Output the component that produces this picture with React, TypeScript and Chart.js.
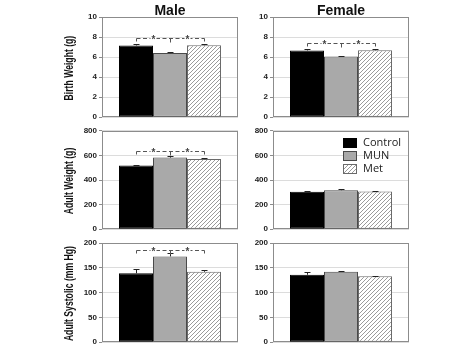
import React, { useEffect, useRef } from "react";
import { Chart, registerables } from "chart.js";

Chart.register(...registerables);

const groups = ["Control", "MUN", "Met"];
const sexes = ["Male", "Female"];
const measures = ["Birth Weight (g)", "Adult Weight (g)", "Adult Systolic (mm Hg)"];

const birthMale = [7.16, 6.4, 7.18];
const birthMaleErr = [0.1, 0.08, 0.12];
const birthFemale = [6.66, 6.07, 6.68];
const birthFemaleErr = [0.1, 0.06, 0.08];
const adultMale = [518, 582, 570];
const adultMaleErr = [5, 12, 5];
const adultFemale = [304, 317, 306];
const adultFemaleErr = [4, 6, 4];
const sysMale = [139, 173, 142];
const sysMaleErr = [9, 6, 3];
const sysFemale = [136, 142, 133];
const sysFemaleErr = [5, 2, 1];

const yMaxes = [10, 800, 200];
const ySteps = [2, 200, 50];
// significance bracket heights (null = none)
const bracketMale = [7.9, 632, 186];
const bracketFemale = [7.4, null, null];

const values = [
  [birthMale, birthFemale],
  [adultMale, adultFemale],
  [sysMale, sysFemale],
];
const errors = [
  [birthMaleErr, birthFemaleErr],
  [adultMaleErr, adultFemaleErr],
  [sysMaleErr, sysFemaleErr],
];
const brackets = [bracketMale, bracketFemale];

const W = 474;
const H = 352;
const colBox = [
  { left: 55, width: 190, axisW: 47, padR: 7 },
  { left: 245, width: 170, axisW: 28, padR: 6 },
];
const rowBox = [
  { top: 0, height: 124, padT: 17, padB: 6 },
  { top: 124, height: 112, padT: 6, padB: 6 },
  { top: 236, height: 113, padT: 7, padB: 6 },
];

function makeHatch(): CanvasPattern | string {
  const c = document.createElement("canvas");
  c.width = 4;
  c.height = 4;
  const ctx = c.getContext("2d");
  if (!ctx) return "#ddd";
  ctx.fillStyle = "#ffffff";
  ctx.fillRect(0, 0, 4, 4);
  ctx.strokeStyle = "#8f8f8f";
  ctx.lineWidth = 0.9;
  ctx.beginPath();
  ctx.moveTo(0, 4);
  ctx.lineTo(4, 0);
  ctx.moveTo(-1, 1);
  ctx.lineTo(1, -1);
  ctx.moveTo(3, 5);
  ctx.lineTo(5, 3);
  ctx.stroke();
  const p = ctx.createPattern(c, "repeat");
  return p || "#ddd";
}

function Panel({ row, col }: { row: number; col: number }) {
  const ref = useRef<HTMLCanvasElement | null>(null);
  useEffect(() => {
    if (!ref.current) return;
    const vals = values[row][col];
    const errs = errors[row][col];
    const br = brackets[col][row];
    const hatch = makeHatch();
    const fills: any[] = ["#000000", "#a9a9a9", hatch];
    const borders = ["#000000", "#4a4a4a", "#6a6a6a"];

    const decor = {
      id: "decor",
      beforeDatasetsDraw(chart: any) {
        const { ctx, chartArea } = chart;
        ctx.save();
        ctx.strokeStyle = "#8c8c8c";
        ctx.lineWidth = 1;
        ctx.strokeRect(
          Math.round(chartArea.left) + 0.5,
          Math.round(chartArea.top) + 0.5,
          Math.round(chartArea.right - chartArea.left) - 1,
          Math.round(chartArea.bottom - chartArea.top) - 1
        );
        ctx.restore();
      },
      afterDatasetsDraw(chart: any) {
        const { ctx, chartArea, scales } = chart;
        const ys = scales.y;
        ctx.save();
        // error bars
        ctx.strokeStyle = "#222";
        ctx.lineWidth = 1;
        for (let i = 0; i < 3; i++) {
          const bar = chart.getDatasetMeta(i).data[0];
          const x = Math.round(bar.x) + 0.5;
          const yt = Math.round(ys.getPixelForValue(vals[i] + errs[i])) + 0.5;
          ctx.beginPath();
          ctx.moveTo(x, bar.y);
          ctx.lineTo(x, yt);
          ctx.moveTo(x - 3, yt);
          ctx.lineTo(x + 3, yt);
          ctx.stroke();
        }
        // bracket
        if (br !== null && br !== undefined) {
          const x1 = Math.round(chart.getDatasetMeta(0).data[0].x) + 0.5;
          const xm = Math.round(chart.getDatasetMeta(1).data[0].x) + 0.5;
          const x2 = Math.round(chart.getDatasetMeta(2).data[0].x) + 0.5;
          const y = Math.round(ys.getPixelForValue(br)) + 0.5;
          ctx.strokeStyle = "#555";
          ctx.setLineDash([4, 2.5]);
          ctx.beginPath();
          ctx.moveTo(x1, y);
          ctx.lineTo(x2, y);
          ctx.stroke();
          ctx.setLineDash([]);
          ctx.beginPath();
          ctx.moveTo(x1, y);
          ctx.lineTo(x1, y + 3);
          ctx.moveTo(x2, y);
          ctx.lineTo(x2, y + 3);
          ctx.moveTo(xm, y);
          ctx.lineTo(xm, y + 4);
          ctx.stroke();
          ctx.font = "bold 10px 'Liberation Sans', Arial, sans-serif";
          ctx.textAlign = "center";
          ctx.textBaseline = "middle";
          for (const sx of [(x1 + xm) / 2, (xm + x2) / 2]) {
            ctx.fillStyle = "#ffffff";
            ctx.fillRect(sx - 3, y - 2, 6, 4);
            ctx.fillStyle = "#444";
            ctx.fillText("*", sx, y + 2);
          }
        }
        // titles
        if (row === 0) {
          ctx.fillStyle = "#111";
          ctx.font = "bold 14px 'Liberation Sans', Arial, sans-serif";
          ctx.textAlign = "center";
          ctx.textBaseline = "middle";
          ctx.fillText(sexes[col], (chartArea.left + chartArea.right) / 2, chartArea.top - 6);
        }
        if (col === 0) {
          ctx.save();
          ctx.translate(chartArea.left - 32, (chartArea.top + chartArea.bottom) / 2 + 1);
          ctx.rotate(-Math.PI / 2);
          ctx.scale(0.72, 1);
          ctx.fillStyle = "#111";
          ctx.font = "bold 12px 'Liberation Sans', Arial, sans-serif";
          ctx.textAlign = "center";
          ctx.textBaseline = "middle";
          ctx.fillText(measures[row], 0, 0);
          ctx.restore();
        }
        // legend
        if (row === 1 && col === 1) {
          ctx.font = "11px 'Open Sans', sans-serif";
          ctx.textAlign = "left";
          ctx.textBaseline = "middle";
          for (let i = 0; i < 3; i++) {
            const bx = Math.round(chartArea.left) + 70;
            const cy = Math.round(chartArea.top) + 12 + i * 13;
            ctx.fillStyle = fills[i];
            ctx.fillRect(bx, cy - 5, 14, 10);
            ctx.strokeStyle = borders[i];
            ctx.strokeRect(bx + 0.5, cy - 4.5, 13, 9);
            ctx.fillStyle = "#222";
            ctx.fillText(groups[i], bx + 20, cy);
          }
        }
        ctx.restore();
      },
    };

    const chart = new Chart(ref.current, {
      type: "bar",
      data: {
        labels: [""],
        datasets: groups.map((g, i) => ({
          label: g,
          data: [vals[i]],
          backgroundColor: fills[i],
          borderColor: borders[i],
          borderWidth: 1,
          borderSkipped: false,
        })),
      },
      options: {
        responsive: false,
        animation: false,
        devicePixelRatio: 1,
        layout: {
          padding: {
            left: 0,
            right: colBox[col].padR,
            top: rowBox[row].padT,
            bottom: rowBox[row].padB,
          },
        },
        datasets: {
          bar: { categoryPercentage: 0.75, barPercentage: 1 },
        },
        plugins: {
          legend: { display: false },
          tooltip: { enabled: false },
          title: { display: false },
        },
        scales: {
          x: { display: false },
          y: {
            min: 0,
            max: yMaxes[row],
            ticks: {
              stepSize: ySteps[row],
              color: "#222",
              padding: 2,
              font: { size: 8, weight: "bold", family: "'Liberation Sans', Arial, sans-serif" },
            },
            grid: {
              color: "#dcdcdc",
              tickLength: 3,
              tickColor: "#8c8c8c",
            },
            border: { display: false },
            afterFit(scale: any) {
              scale.width = colBox[col].axisW;
            },
          },
        },
      },
      plugins: [decor],
    } as any);
    return () => chart.destroy();
  }, [row, col]);

  const c = colBox[col];
  const r = rowBox[row];
  return (
    <canvas
      ref={ref}
      width={c.width}
      height={r.height}
      style={{ position: "absolute", left: c.left, top: r.top, width: c.width, height: r.height }}
    />
  );
}

export default function App() {
  const cells: React.ReactNode[] = [];
  for (let r = 0; r < 3; r++) {
    for (let c = 0; c < 2; c++) {
      cells.push(<Panel key={`${r}-${c}`} row={r} col={c} />);
    }
  }
  return (
    <div style={{ position: "absolute", left: 0, top: 0, width: W, height: H, background: "#fff" }}>
      {cells}
    </div>
  );
}
